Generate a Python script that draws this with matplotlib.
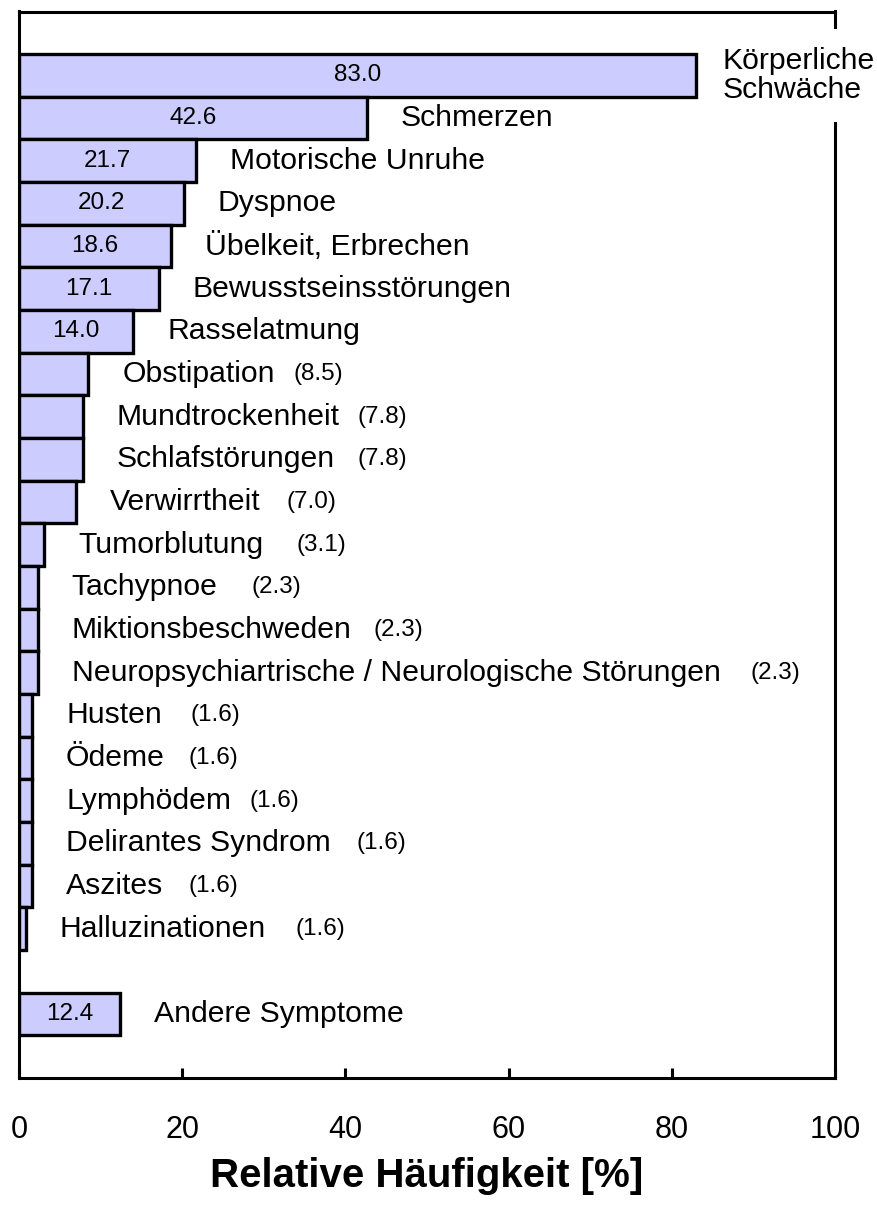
import matplotlib
matplotlib.use("Agg")
import matplotlib.pyplot as plt

plt.rcParams['font.family'] = ['Liberation Sans', 'DejaVu Sans']

# symptoms, top to bottom (slot 21 stays empty before "Andere Symptome")
symptoms = [
    "Körperliche\nSchwäche", "Schmerzen", "Motorische Unruhe", "Dyspnoe",
    "Übelkeit, Erbrechen", "Bewusstseinsstörungen", "Rasselatmung",
    "Obstipation", "Mundtrockenheit", "Schlafstörungen", "Verwirrtheit",
    "Tumorblutung", "Tachypnoe", "Miktionsbeschweden",
    "Neuropsychiartrische / Neurologische Störungen", "Husten", "Ödeme",
    "Lymphödem", "Delirantes Syndrom", "Aszites", "Halluzinationen",
    "Andere Symptome",
]
slots = list(range(21)) + [22]
# printed percentages
printed = [83.0, 42.6, 21.7, 20.2, 18.6, 17.1, 14.0, 8.5, 7.8, 7.8, 7.0,
           3.1, 2.3, 2.3, 2.3, 1.6, 1.6, 1.6, 1.6, 1.6, 1.6, 12.4]
# bar lengths as drawn (the last small bar is drawn shorter than its label)
bar_len = [83.0, 42.6, 21.7, 20.2, 18.6, 17.1, 14.0, 8.5, 7.8, 7.8, 7.0,
           3.1, 2.3, 2.3, 2.3, 1.6, 1.6, 1.6, 1.6, 1.6, 0.8, 12.4]
# x position (data units) of the "(x.x)" texts for the small bars
paren_x = [None] * 7 + [33.7, 41.5, 41.5, 32.8, 34.0, 28.5, 43.4, 89.7,
                        21.0, 20.8, 28.2, 41.3, 20.8, 33.9, None]

fig = plt.figure(figsize=(8.78, 12.08), dpi=100)
ax = fig.add_axes([19 / 878, 130 / 1208, 816 / 878, 1066.5 / 1208])

ax.barh(slots, bar_len, height=1.0, color='#ccccff', edgecolor='black',
        linewidth=2.4, zorder=2)

for i, name in enumerate(symptoms):
    y = slots[i]
    box = None
    gap = 24.5
    if i == 0:
        # white box cuts through the right frame line
        box = dict(boxstyle='square,pad=0.6', facecolor='white', edgecolor='none')
        gap = 19
    ax.annotate(name, xy=(bar_len[i], y), xytext=(gap, 0),
                textcoords='offset points', ha='left', va='center',
                fontsize=21.7, linespacing=1.02, bbox=box, zorder=5,
                annotation_clip=False)
    if printed[i] >= 10:
        ax.text(bar_len[i] / 2, y, f"{printed[i]:.1f}", ha='center',
                va='center', fontsize=17.5, zorder=4)
    else:
        ax.text(paren_x[i], y, f"({printed[i]:.1f})", ha='left',
                va='center', fontsize=17.5, zorder=4)

ax.set_xlim(0, 100)
ax.set_ylim(23.5, -1.5)
ax.set_yticks([])
ax.set_xticks([0, 20, 40, 60, 80, 100])
ax.tick_params(axis='x', direction='in', length=7.2, width=2.2,
               labelsize=22, pad=27)
for s in ax.spines.values():
    s.set_linewidth(2.2)
    s.set_zorder(3)

ax.set_xlabel("Relative Häufigkeit [%]", fontsize=29, fontweight='bold',
              labelpad=8.5)

fig.savefig("out.png", dpi=100)
